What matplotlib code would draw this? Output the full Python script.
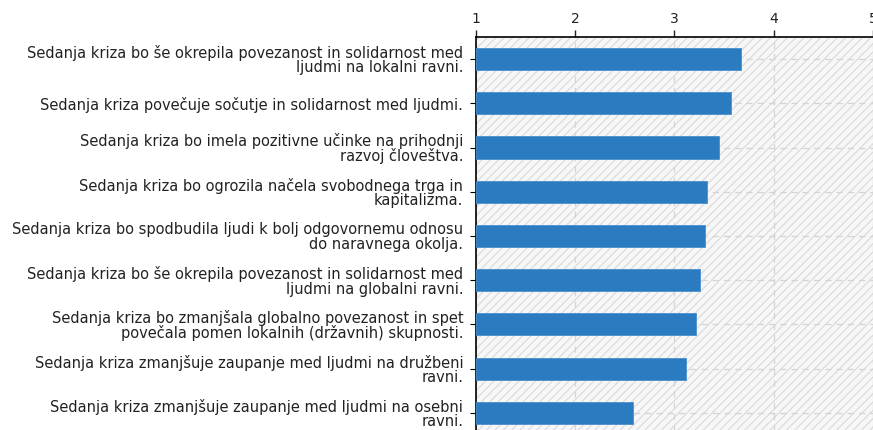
import matplotlib.pyplot as plt
from matplotlib.patches import Rectangle

labels = [
    'Sedanja kriza bo še okrepila povezanost in solidarnost med\nljudmi na lokalni ravni.',
    'Sedanja kriza povečuje sočutje in solidarnost med ljudmi.',
    'Sedanja kriza bo imela pozitivne učinke na prihodnji\nrazvoj človeštva.',
    'Sedanja kriza bo ogrozila načela svobodnega trga in\nkapitalizma.',
    'Sedanja kriza bo spodbudila ljudi k bolj odgovornemu odnosu\ndo naravnega okolja.',
    'Sedanja kriza bo še okrepila povezanost in solidarnost med\nljudmi na globalni ravni.',
    'Sedanja kriza bo zmanjšala globalno povezanost in spet\npovečala pomen lokalnih (državnih) skupnosti.',
    'Sedanja kriza zmanjšuje zaupanje med ljudmi na družbeni\nravni.',
    'Sedanja kriza zmanjšuje zaupanje med ljudmi na osebni\nravni.',
]
values = [3.67, 3.57, 3.45, 3.33, 3.31, 3.26, 3.22, 3.12, 2.58]
xticks = [1, 2, 3, 4, 5]

plt.rcParams['font.family'] = 'DejaVu Sans'
plt.rcParams['hatch.linewidth'] = 0.8
plt.rcParams['hatch.color'] = '#d9d9d9'

fig = plt.figure(figsize=(8.73, 4.30), dpi=100)
ax = fig.add_axes([0.545, -0.0116, 0.455, 0.9256])

# hatched background
ax.add_patch(Rectangle((0, 0), 1, 1, transform=ax.transAxes, facecolor='#f7f7f7',
                       edgecolor='#d9d9d9', hatch='////', linewidth=0, zorder=0))

ypos = list(range(len(values)))
ax.barh(ypos, [v - 1 for v in values], left=1, height=0.5, color='#2b7bc1',
        edgecolor='#4a90cf', linewidth=0.6, zorder=3)

ax.set_xlim(1, 5)
ax.set_ylim(len(values) - 0.5, -0.5)
ax.set_xticks(xticks)
ax.set_yticks(ypos)
ax.set_yticklabels(labels, fontsize=10.5, linespacing=0.95, color='#222222')
ax.xaxis.tick_top()
ax.tick_params(axis='x', labelsize=10, length=5, width=1, pad=3, colors='#222222')
ax.tick_params(axis='y', length=4, width=0.8, pad=5)

ax.grid(True, linestyle=(0, (5, 4)), color='#d4d4d4', linewidth=0.9, zorder=1)
ax.set_axisbelow(True)

for s in ['right', 'bottom']:
    ax.spines[s].set_visible(False)
ax.spines['top'].set_linewidth(1.2)
ax.spines['left'].set_linewidth(1.2)

fig.savefig('out.png', dpi=100)
